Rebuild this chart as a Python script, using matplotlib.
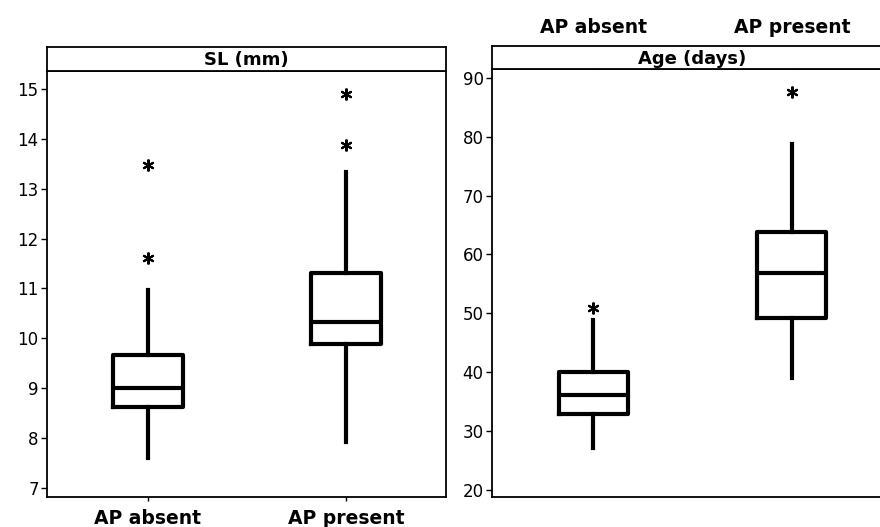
import matplotlib
matplotlib.use('Agg')
import matplotlib.pyplot as plt

# groups and panel titles
groups = ['AP absent', 'AP present']
panel_titles = ['SL (mm)', 'Age (days)']

# box summaries: whislo, q1, median, q3, whishi
sl_whislo = [7.6, 7.92]
sl_q1 = [8.62, 9.89]
sl_med = [9.0, 10.33]
sl_q3 = [9.67, 11.31]
sl_whishi = [10.97, 13.33]
sl_fliers = [[11.61, 13.47], [13.88, 14.9]]

age_whislo = [27.1, 39.0]
age_q1 = [32.9, 49.2]
age_med = [36.1, 56.9]
age_q3 = [40.05, 63.8]
age_whishi = [48.9, 78.8]
age_fliers = [[50.9], [87.6]]


def make_stats(lo, q1, med, q3, hi, fl):
    out = []
    for i in range(len(groups)):
        out.append(dict(whislo=lo[i], q1=q1[i], med=med[i], q3=q3[i],
                        whishi=hi[i], fliers=fl[i], label=groups[i]))
    return out


W, H = 880, 527
fig = plt.figure(figsize=(W / 100, H / 100), dpi=100)
fig.patch.set_facecolor('white')


def fx(px):
    return px / W


def fy(py):
    return 1 - py / H


box_lw = 3.0
line_kw = dict(color='black', linewidth=box_lw)
flier_kw = dict(marker=(6, 2, 0), markersize=8.5, markeredgewidth=1.5,
                markeredgecolor='black', markerfacecolor='black', linestyle='none')

panels = [
    dict(l=47, r=446, t=71, s=47, b=497, ylim=(6.82, 15.36), yticks=range(7, 16),
         stats=make_stats(sl_whislo, sl_q1, sl_med, sl_q3, sl_whishi, sl_fliers),
         top_labels=False, title=panel_titles[0]),
    dict(l=492, r=892, t=69, s=46, b=497, ylim=(18.8, 91.5), yticks=range(20, 91, 10),
         stats=make_stats(age_whislo, age_q1, age_med, age_q3, age_whishi, age_fliers),
         top_labels=True, title=panel_titles[1]),
]

for p in panels:
    ax = fig.add_axes([fx(p['l']), fy(p['b']), fx(p['r'] - p['l']), (p['b'] - p['t']) / H])
    ax.bxp(p['stats'], positions=[1, 2], widths=0.35, showcaps=False,
           boxprops=line_kw, whiskerprops=line_kw, medianprops=line_kw,
           flierprops=flier_kw, patch_artist=False)
    ax.set_xlim(0.49, 2.505)
    ax.set_ylim(*p['ylim'])
    ax.set_yticks(list(p['yticks']))
    ax.tick_params(axis='y', labelsize=12, length=4, width=1, pad=2)
    ax.set_xticks([1, 2])
    if p['top_labels']:
        ax.xaxis.tick_top()
        ax.xaxis.set_label_position('top')
        ax.tick_params(axis='x', length=3, width=1, pad=20)
    else:
        ax.tick_params(axis='x', length=3, width=1, pad=6)
    ax.set_xticklabels(groups, fontsize=13.5, fontweight='bold')
    for sp in ax.spines.values():
        sp.set_linewidth(1.3)

    # strip on top of the panel
    sax = fig.add_axes([fx(p['l']), fy(p['t']), fx(p['r'] - p['l']), (p['t'] - p['s']) / H])
    sax.set_xticks([])
    sax.set_yticks([])
    for sp in sax.spines.values():
        sp.set_linewidth(1.3)
    sax.text(0.5, 0.45, p['title'], transform=sax.transAxes, ha='center', va='center',
             fontsize=13, fontweight='bold')

fig.savefig('out.png', dpi=100, facecolor='white')
